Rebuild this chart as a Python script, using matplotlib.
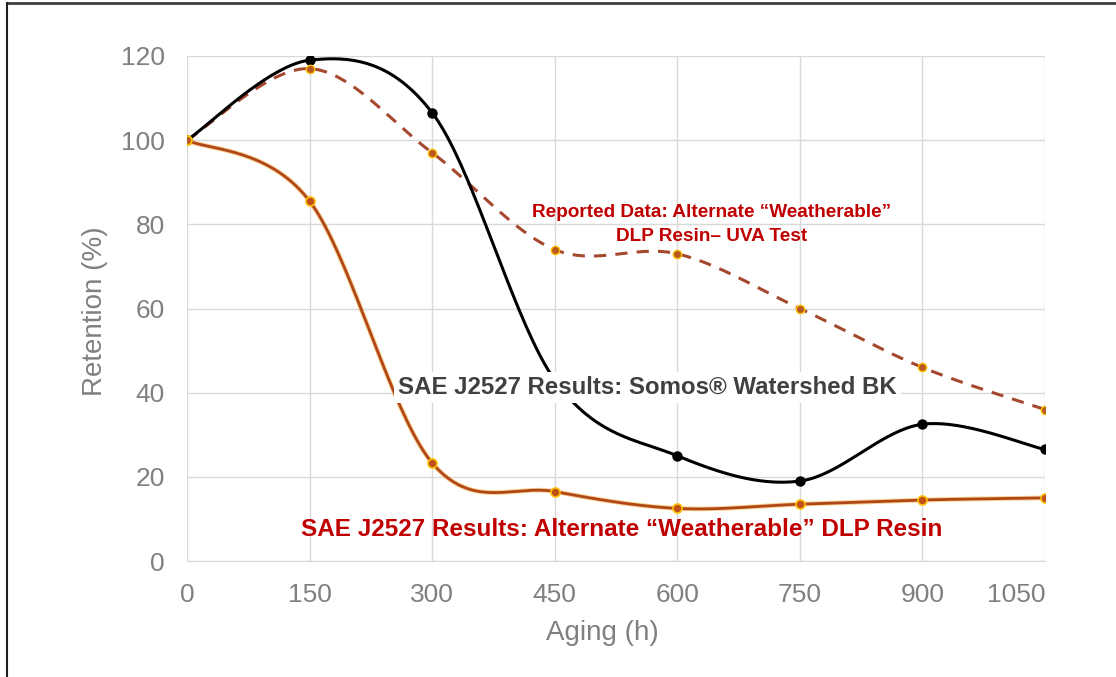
import numpy as np
import matplotlib
matplotlib.use('Agg')
import matplotlib.pyplot as plt
from matplotlib.lines import Line2D

# 数据
aging_h = [0, 150, 300, 450, 600, 750, 900, 1050]
somos_bk = [100, 119, 106.5, 43, 25, 19, 32.5, 26.5]
reported_uva = [100, 117, 97, 74, 73, 60, 46, 36]
alternate_j2527 = [100, 85.5, 23.3, 16.5, 12.5, 13.5, 14.5, 15]

x_ticks = [0, 150, 300, 450, 600, 750, 900, 1050]
y_ticks = [0, 20, 40, 60, 80, 100, 120]


def smooth(x, y, n=40):
    """Excel 风格的平滑曲线（Bezier 控制点取相邻差值的 1/6）"""
    p = np.column_stack([x, y]).astype(float)
    pts = []
    for i in range(len(p) - 1):
        p0 = p[max(i - 1, 0)]
        p1 = p[i]
        p2 = p[i + 1]
        p3 = p[min(i + 2, len(p) - 1)]
        c1 = p1 + (p2 - p0) / 6
        c2 = p2 - (p3 - p1) / 6
        t = np.linspace(0, 1, n)[:, None]
        seg = ((1 - t) ** 3) * p1 + 3 * ((1 - t) ** 2) * t * c1 \
            + 3 * (1 - t) * t ** 2 * c2 + t ** 3 * p2
        pts.append(seg if i == 0 else seg[1:])
    pts = np.vstack(pts)
    return pts[:, 0], pts[:, 1]


plt.rcParams['font.family'] = ['Liberation Sans', 'DejaVu Sans']

fig = plt.figure(figsize=(11.16, 6.77), dpi=100)
ax = fig.add_axes([0.1676, 0.1713, 0.7688, 0.746])

grid_c = '#d9d9d9'
tick_c = '#808080'

# 黑线
sx, sy = smooth(aging_h, somos_bk)
ax.plot(sx, sy, color='black', lw=2.2, zorder=6)
ax.plot(aging_h, somos_bk, ls='none', marker='o', ms=6.5,
        mfc='black', mec='black', zorder=7)

# 橙色实线
sx, sy = smooth(aging_h, alternate_j2527)
ax.plot(sx, sy, color='#f5a623', lw=3.4, alpha=0.5, zorder=3)
ax.plot(sx, sy, color='#b0471a', lw=2, zorder=4)
ax.plot(aging_h, alternate_j2527, ls='none', marker='o', ms=6.5,
        mfc='#c0501a', mec='#ffc000', mew=1.2, zorder=8)

# 虚线
sx, sy = smooth(aging_h, reported_uva)
ax.plot(sx, sy, color='#a5482d', lw=2.2, ls=(0, (4, 3)), zorder=4)
ax.plot(aging_h, reported_uva, ls='none', marker='o', ms=6,
        mfc='#b85a20', mec='#ffc000', mew=1.0, zorder=8)

ax.set_xlim(0, 1050)
ax.set_ylim(0, 120)
ax.set_xticks(x_ticks)
ax.set_yticks(y_ticks)
ax.grid(True, color=grid_c, lw=1)
ax.set_axisbelow(True)
for s in ['top', 'right', 'left']:
    ax.spines[s].set_visible(False)
ax.spines['bottom'].set_color(grid_c)
ax.tick_params(length=0, labelsize=19, labelcolor=tick_c, pad=16)
# 最后一个刻度标签右对齐（不超出绘图区）
ax.get_xticklabels()[-1].set_horizontalalignment('right')
ax.set_xlabel('Aging (h)', fontsize=20, color=tick_c)
ax.set_ylabel('Retention (%)', fontsize=20, color=tick_c)
ax.xaxis.set_label_coords(0.4837, -0.117)
ax.yaxis.set_label_coords(-0.092, 0.495)

# 注释文字
ax.text(642, 80, 'Reported Data: Alternate \u201cWeatherable\u201d\nDLP Resin\u2013 UVA Test',
        ha='center', va='center', fontsize=13.7, fontweight='bold',
        color='#c00000', linespacing=1.5, zorder=9)
ax.text(563, 41.3, 'SAE J2527 Results: Somos\u00ae Watershed BK',
        ha='center', va='center', fontsize=17.3, fontweight='bold',
        color='#404040', zorder=9,
        bbox=dict(facecolor='white', edgecolor='none', pad=3))
ax.text(532, 7.6, 'SAE J2527 Results: Alternate \u201cWeatherable\u201d DLP Resin',
        ha='center', va='center', fontsize=17.5, fontweight='bold',
        color='#c00000', zorder=9)

# 外框（上、左）
fig.add_artist(Line2D([0.006, 1.0], [0.9955, 0.9955], transform=fig.transFigure,
                      color='#404040', lw=2))
fig.add_artist(Line2D([0.0063, 0.0063], [0.0, 0.9955], transform=fig.transFigure,
                      color='#202020', lw=1.5))

fig.savefig('out.png', dpi=100)
